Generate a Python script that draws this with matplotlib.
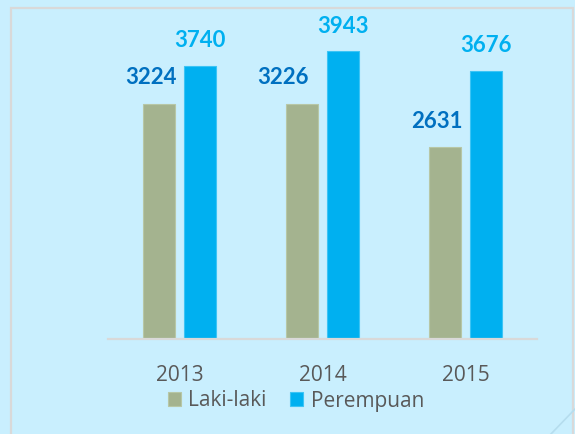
import matplotlib
matplotlib.use("Agg")
import matplotlib.pyplot as plt
from matplotlib.patches import Rectangle
from matplotlib.lines import Line2D
import numpy as np

years = ["2013", "2014", "2015"]
laki = [3224, 3226, 2631]
perempuan = [3740, 3943, 3676]
series_names = ["Laki-laki", "Perempuan"]

W, H = 575, 434
fig = plt.figure(figsize=(W / 100, H / 100), dpi=100)
bg = "#C9EFFE"
fig.patch.set_facecolor(bg)

def fx(px):
    return px / W

def fy(py):
    return 1 - py / H

# outer frame
fig.patches.append(Rectangle((fx(11), fy(440)), fx(573) - fx(11), fy(8) - fy(440),
                             transform=fig.transFigure, fill=False,
                             edgecolor="#D9D9D9", linewidth=1.6))
fig.lines.append(Line2D([fx(550), fx(576)], [fy(435), fy(408)], transform=fig.transFigure,
                        color="#B5DDEE", linewidth=1.2))

ax = fig.add_axes([fx(108), fy(339), fx(537) - fx(108), fy(20) - fy(339)])
ax.set_facecolor("none")

x = np.arange(len(years))
bw = 0.224
off = 0.14
c_l = "#A4B38F"
c_p = "#00B0F0"
b1 = ax.bar(x - off, laki, bw, color=c_l, edgecolor="#B7C7A6", linewidth=0.8, label=series_names[0])
b2 = ax.bar(x + off, perempuan, bw, color=c_p, edgecolor="#3CC4F5", linewidth=0.8, label=series_names[1])

ax.set_xlim(-0.5, 2.5)
ax.set_ylim(0, (339 - 20) * 13.70)

for s in ["top", "right", "left"]:
    ax.spines[s].set_visible(False)
ax.spines["bottom"].set_color("#D9D9D9")
ax.spines["bottom"].set_linewidth(1.6)
ax.set_yticks([])
ax.set_xticks(x)
ax.set_xticklabels(years, fontsize=15, color="#595959", family="Open Sans")
ax.tick_params(axis="x", length=0, pad=19)

lab_font = dict(family="Lato", fontweight="bold", fontsize=16)
laki_dx = [-8, -19, -9]
for xi, v, dx in zip(x, laki, laki_dx):
    ax.annotate(f"{v}", (xi - off, v), xytext=(dx * 0.72, 11), textcoords="offset points",
                ha="center", va="bottom", color="#0070C0", **lab_font)
for xi, v in zip(x, perempuan):
    ax.annotate(f"{v}", (xi + off, v), xytext=(0, 10.5), textcoords="offset points",
                ha="center", va="bottom", color="#00B0F0", **lab_font)

leg = fig.legend(handles=[b1, b2], labels=series_names, loc="center",
                 bbox_to_anchor=(fx(296), fy(401)), ncol=2, frameon=False,
                 prop=dict(family="Open Sans", size=15), handlelength=0.62,
                 handleheight=0.62, handletextpad=0.35, columnspacing=1.15)
for t in leg.get_texts():
    t.set_color("#595959")

fig.savefig("out.png", dpi=100, facecolor=bg)
